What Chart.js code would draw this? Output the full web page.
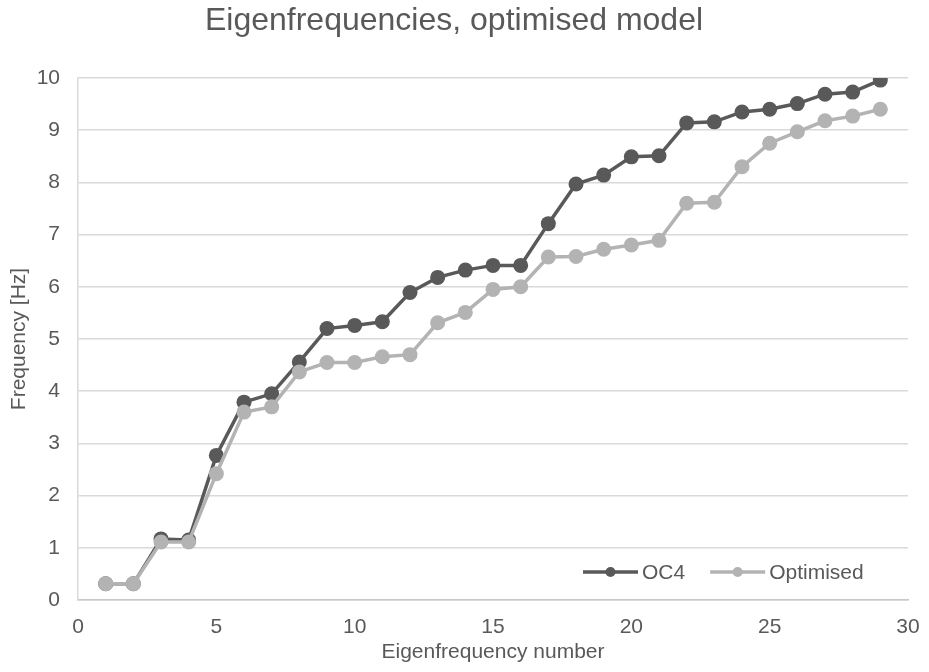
<!DOCTYPE html>
<html>
<head>
<meta charset="utf-8">
<script src="https://cdn.jsdelivr.net/npm/chart.js@4.4.1/dist/chart.umd.min.js"></script>
<style>
  html, body { margin: 0; padding: 0; background: #ffffff; }
  #wrap { width: 929px; height: 672px; }
</style>
</head>
<body>
<div id="wrap"><canvas id="c" width="929" height="672"></canvas></div>
<script>
const chartTitle = "Eigenfrequencies, optimised model";
const xAxisTitle = "Eigenfrequency number";
const yAxisTitle = "Frequency [Hz]";
const seriesNames = ["OC4", "Optimised"];
const eigenNumbers = [1,2,3,4,5,6,7,8,9,10,11,12,13,14,15,16,17,18,19,20,21,22,23,24,25,26,27,28,29];
const oc4Values = [0.31,0.31,1.17,1.15,2.77,3.79,3.95,4.56,5.20,5.26,5.33,5.89,6.18,6.32,6.41,6.41,7.21,7.97,8.14,8.49,8.51,9.14,9.16,9.35,9.40,9.51,9.69,9.73,9.96];
const optimisedValues = [0.31,0.31,1.11,1.11,2.42,3.60,3.70,4.37,4.55,4.55,4.66,4.70,5.31,5.51,5.95,6.00,6.57,6.58,6.72,6.80,6.89,7.60,7.62,8.30,8.75,8.97,9.18,9.27,9.40];
const xTickStep = 5, xMin = 0, xMax = 30;
const yTickStep = 1, yMin = 0, yMax = 10;

const FONT = "'Liberation Sans', Arial, sans-serif";
const TXT = "#595959";
const colors = ["#595959", "#b3b3b3"];

const toPoints = (vals) => vals.map((v, i) => ({ x: eigenNumbers[i], y: v }));

const legendPlugin = {
  id: 'insideLegend',
  afterDatasetsDraw(chart) {
    const ctx = chart.ctx;
    const ca = chart.chartArea;
    ctx.save();
    ctx.font = "21px " + FONT;
    const lineLen = 55, gapText = 4, gapItem = 25;
    const items = chart.data.datasets.map(d => ({ label: d.label, color: d.borderColor, w: ctx.measureText(d.label).width }));
    let x = ca.right - 325;
    const y = ca.bottom - 28;
    items.forEach(it => {
      ctx.strokeStyle = it.color;
      ctx.lineWidth = 3.5;
      ctx.beginPath();
      ctx.moveTo(x, y);
      ctx.lineTo(x + lineLen, y);
      ctx.stroke();
      ctx.fillStyle = it.color;
      ctx.beginPath();
      ctx.arc(x + lineLen / 2, y, 5, 0, Math.PI * 2);
      ctx.fill();
      ctx.fillStyle = TXT;
      ctx.textBaseline = 'middle';
      ctx.textAlign = 'left';
      ctx.fillText(it.label, x + lineLen + gapText, y + 1);
      x += lineLen + gapText + it.w + gapItem;
    });
    ctx.restore();
  }
};

new Chart(document.getElementById('c'), {
  type: 'line',
  data: {
    datasets: [
      { label: seriesNames[0], data: toPoints(oc4Values), borderColor: colors[0], backgroundColor: colors[0], order: 1,
        borderWidth: 3.5, pointRadius: 7.5, pointHoverRadius: 7.5, pointBorderWidth: 0, tension: 0 },
      { label: seriesNames[1], data: toPoints(optimisedValues), borderColor: colors[1], backgroundColor: colors[1], order: 0,
        borderWidth: 3.5, pointRadius: 7.5, pointHoverRadius: 7.5, pointBorderWidth: 0, tension: 0 }
    ]
  },
  options: {
    responsive: false,
    animation: false,
    devicePixelRatio: 1,
    layout: { padding: { left: 0, right: 21, top: 0, bottom: 0 } },
    plugins: {
      legend: { display: false },
      tooltip: { enabled: false },
      title: {
        display: true, text: chartTitle, color: TXT,
        font: { family: FONT, size: 32, weight: 'normal', lineHeight: 1.2 },
        padding: { top: 2, bottom: 37.6 }
      }
    },
    scales: {
      x: {
        type: 'linear', min: xMin, max: xMax,
        ticks: { stepSize: xTickStep, color: TXT, font: { family: FONT, size: 21 }, padding: 15, maxRotation: 0 },
        grid: { display: false, drawTicks: false },
        border: { display: true, color: '#c8c8c8', width: 1.5 },
        title: { display: true, text: xAxisTitle, color: TXT, font: { family: FONT, size: 21 }, padding: { top: 4, bottom: 7.4 } },
        afterFit(s) { s.height = 72; s.paddingLeft = 0; s.paddingRight = 0; }
      },
      y: {
        type: 'linear', min: yMin, max: yMax,
        ticks: { stepSize: yTickStep, color: TXT, font: { family: FONT, size: 21 }, padding: 18 },
        grid: { color: '#d9d9d9', lineWidth: 1.5, drawTicks: false },
        border: { display: true, color: '#d9d9d9', width: 1.5 },
        title: { display: true, text: yAxisTitle, color: TXT, font: { family: FONT, size: 21 }, padding: { top: 7, bottom: 0 } },
        afterFit(s) { s.width = 78; s.paddingTop = 0; s.paddingBottom = 0; }
      }
    }
  },
  plugins: [legendPlugin]
});
</script>
</body>
</html>
